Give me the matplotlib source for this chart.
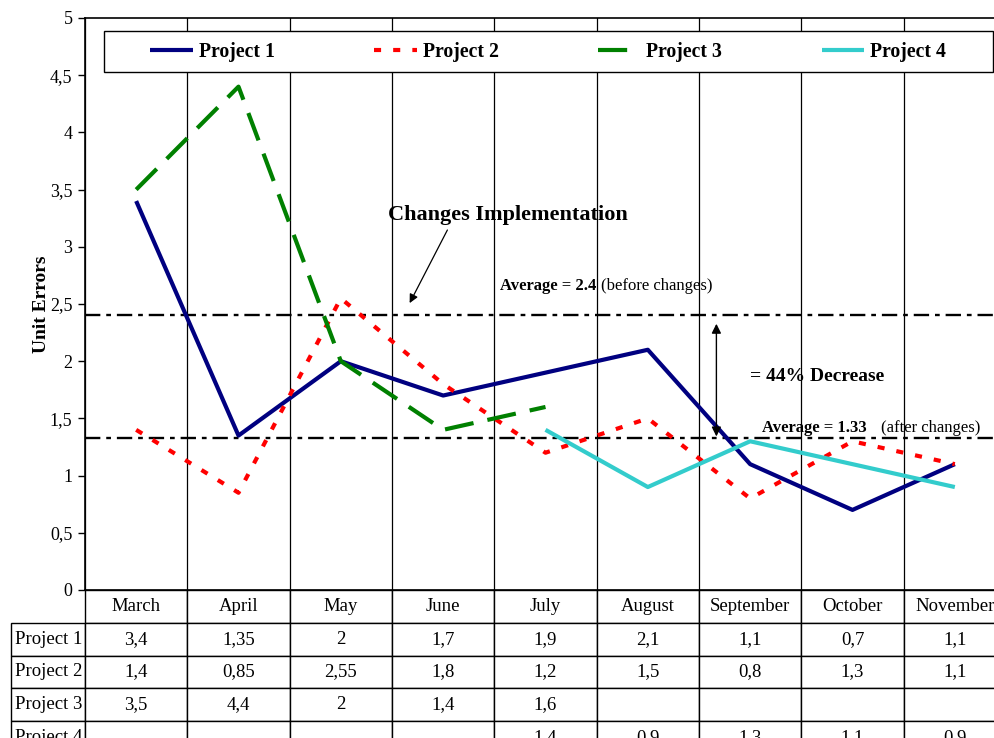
import numpy as np
import matplotlib
matplotlib.use("Agg")
import matplotlib.pyplot as plt
from matplotlib.ticker import FuncFormatter
from matplotlib.patches import Rectangle

plt.rcParams["font.family"] = ["Liberation Serif", "DejaVu Serif"]

months = ["March", "April", "May", "June", "July", "August",
          "September", "October", "November"]
projects = ["Project 1", "Project 2", "Project 3", "Project 4"]
nan = np.nan
project1 = [3.4, 1.35, 2, 1.7, 1.9, 2.1, 1.1, 0.7, 1.1]
project2 = [1.4, 0.85, 2.55, 1.8, 1.2, 1.5, 0.8, 1.3, 1.1]
project3 = [3.5, 4.4, 2, 1.4, 1.6, nan, nan, nan, nan]
project4 = [nan, nan, nan, nan, 1.4, 0.9, 1.3, 1.1, 0.9]
avg_before = 2.4
avg_after = 1.33
decrease_pct = 44


def comma(v):
    return f"{v:g}".replace(".", ",")


fig = plt.figure(figsize=(9.95, 7.38), dpi=100)
ax = fig.add_axes([85 / 995, 148 / 738, 921 / 995, 572 / 738])

x = np.arange(len(months))
series = [project1, project2, project3, project4]
colors = ["#000080", "#ff0000", "#008000", "#33cccc"]
styles = [dict(ls="-"),
          dict(ls=(0, (1.7, 2.9))),
          dict(ls=(0, (7.0, 3.4))),
          dict(ls="-")]
handles = []
for vals, col, st, name in zip(series, colors, styles, projects):
    (h,) = ax.plot(x, np.array(vals, dtype=float), color=col, lw=3,
                   solid_capstyle="butt", dash_capstyle="butt",
                   label=name, zorder=3, **st)
    handles.append(h)

ax.set_xlim(-0.5, len(months) - 0.5)
ax.set_ylim(0, 5)
ax.set_yticks(np.arange(0, 5.01, 0.5))
ax.yaxis.set_major_formatter(FuncFormatter(lambda v, p: comma(v)))
ax.set_xticks(np.arange(-0.5, len(months), 1))
ax.tick_params(axis="x", length=0, labelbottom=False)
ax.tick_params(axis="y", length=5, width=1, labelsize=13, pad=4)
ax.grid(axis="x", color="black", lw=0.9)
for s in ["left", "top", "bottom"]:
    ax.spines[s].set_linewidth(1.2)
ax.spines["right"].set_visible(False)
ax.set_ylabel("Unit Errors", fontsize=14, fontweight="bold", labelpad=0)

# average lines before / after changes
dashdot = (0, (6.5, 2.5, 2, 2.5))
ax.axhline(avg_before, color="black", lw=1.7, ls=dashdot, zorder=2)
ax.axhline(avg_after, color="black", lw=1.7, ls=dashdot, zorder=2)

t1 = ax.annotate("Average = " + f"{avg_before:g}", xy=(3.56, avg_before),
                 xytext=(0, 21), textcoords="offset points",
                 fontsize=12, fontweight="bold", va="center", ha="left")
ax.annotate("(before changes)", xy=(1, 0.5), xycoords=t1,
            xytext=(3, 0), textcoords="offset points",
            fontsize=12, va="center", ha="left")
t2 = ax.annotate("Average = " + f"{avg_after:g}", xy=(6.12, avg_after),
                 xytext=(0, 7), textcoords="offset points",
                 fontsize=12, fontweight="bold", va="center", ha="left")
ax.annotate("(after changes)", xy=(1, 0.5), xycoords=t2,
            xytext=(10, 0), textcoords="offset points",
            fontsize=12, va="center", ha="left")

ax.annotate("", xy=(5.67, avg_after), xytext=(5.67, avg_before),
            arrowprops=dict(arrowstyle="<|-|>", color="black", lw=1,
                            mutation_scale=14, shrinkA=6, shrinkB=1))
ax.text(6.0, (avg_before + avg_after) / 2, f"= {decrease_pct}% Decrease",
        fontsize=14, fontweight="bold", va="center", ha="left")

ax.annotate("Changes Implementation", xy=(2.61, avg_before), xytext=(3.63, 3.28),
            fontsize=16, fontweight="bold", ha="center", va="center",
            textcoords="data",
            arrowprops=dict(arrowstyle="-|>", color="black", lw=0.9,
                            mutation_scale=13, relpos=(0.26, 0.0),
                            shrinkA=2, shrinkB=10))

# legend in a framed box across the top
ax.add_patch(Rectangle((19 / 921, (590 - 72) / 572), 889 / 921, 41 / 572,
                       transform=ax.transAxes, facecolor="white",
                       edgecolor="black", lw=1, zorder=4))
leg = ax.legend(handles=handles, loc="center", ncol=4, frameon=False,
                bbox_to_anchor=(0.503, 0.9414), handlelength=2.15,
                handletextpad=0.3, columnspacing=5.05,
                prop=dict(size=14.2, weight="bold"))
leg.set_zorder(5)

# data table under the plot; the row-label column is auto-sized
row_h = 164 / 572 / 5
cell_text = [["" if np.isnan(v) else comma(v) for v in vals] for vals in series]
tbl = ax.table(cellText=cell_text, rowLabels=projects, colLabels=months,
               cellLoc="center", rowLoc="left",
               bbox=[0, -5 * row_h, 1, 5 * row_h])
tbl.auto_set_font_size(False)
tbl.set_fontsize(13.5)
for (r, c), cell in tbl.get_celld().items():
    cell.set_edgecolor("black")
    cell.set_linewidth(1)
    cell.set_height(row_h)
    if c == -1:
        cell.PAD = 0.05
    else:
        cell.set_width(1 / len(months))

fig.savefig("out.png", dpi=100)
